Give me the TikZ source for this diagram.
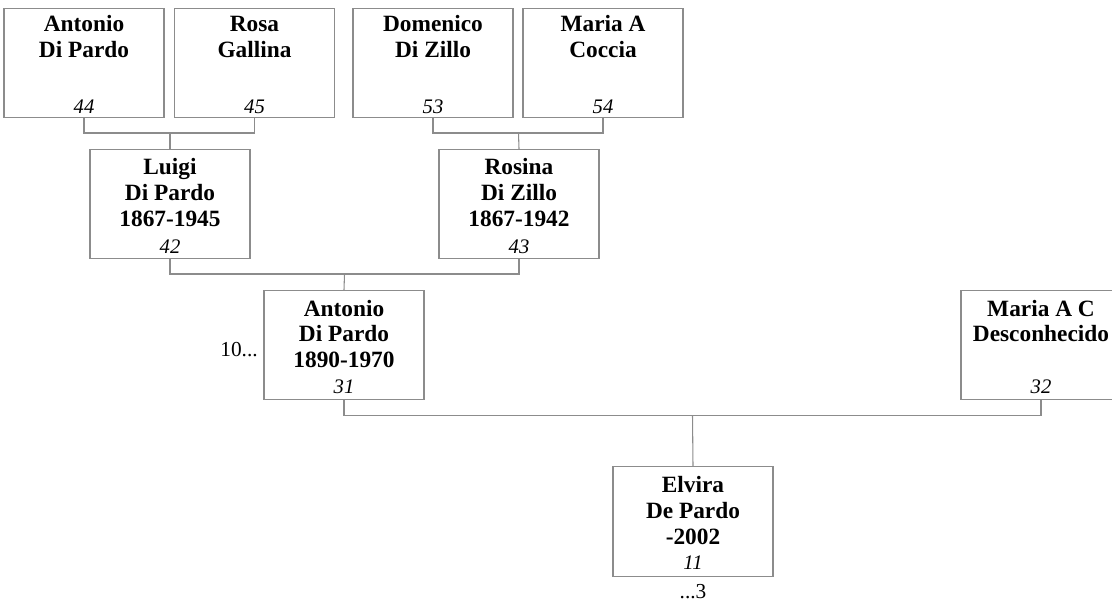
\documentclass[tikz,border=0pt]{standalone}
\usepackage{fontspec}
\setmainfont{Liberation Serif}
\usetikzlibrary{calc}
\definecolor{linegray}{HTML}{8C8C8C}
\begin{document}
\begin{tikzpicture}[x=0.75pt,y=-0.75pt,
  pbox/.style={draw=linegray, line width=0.8pt, minimum width=120pt, minimum height=82pt, inner sep=0pt},
  nm/.style={anchor=base, font=\fontsize{17.5}{20}\selectfont\bfseries, inner sep=0pt},
  num/.style={anchor=base, font=\fontsize{15.5}{18}\selectfont\itshape, inner sep=0pt},
  side/.style={font=\fontsize{16}{19}\selectfont, inner sep=0pt},
  link/.style={draw=linegray, line width=0.8pt}]
\useasboundingbox (0,0) rectangle (1112,602);
\clip (0,0) rectangle (1112,602);

% boxes (center x, center y)
\node[pbox] (p44) at (84,63) {};
\node[pbox] (p45) at (254.5,63) {};
\node[pbox] (p53) at (433,63) {};
\node[pbox] (p54) at (603,63) {};
\node[pbox] (p42) at (170,204) {};
\node[pbox] (p43) at (519,204) {};
\node[pbox] (p31) at (344,345) {};
\node[pbox] (p32) at (1041,345) {};
\node[pbox] (p11) at (693,521.5) {};

% texts: 44
\node[nm] (t44a) at (84,32) {Antonio};
\node[nm] (t44b) at (84,58) {Di Pardo};
\node[num] (n44) at (84,114) {44};
% 45
\node[nm] (t45a) at (254.5,32) {Rosa};
\node[nm] (t45b) at (254.5,58) {Gallina};
\node[num] (n45) at (254.5,114) {45};
% 53
\node[nm] (t53a) at (433,32) {Domenico};
\node[nm] (t53b) at (433,58) {Di Zillo};
\node[num] (n53) at (433,114) {53};
% 54
\node[nm] (t54a) at (603,32) {Maria A};
\node[nm] (t54b) at (603,58) {Coccia};
\node[num] (n54) at (603,114) {54};
% 42
\node[nm] (t42a) at (170,175) {Luigi};
\node[nm] (t42b) at (170,200.5) {Di Pardo};
\node[nm] (t42c) at (170,226) {1867-1945};
\node[num] (n42) at (170,253) {42};
% 43
\node[nm] (t43a) at (519,175) {Rosina};
\node[nm] (t43b) at (519,200.5) {Di Zillo};
\node[nm] (t43c) at (519,226) {1867-1942};
\node[num] (n43) at (519,253) {43};
% 31
\node[nm] (t31a) at (344,316) {Antonio};
\node[nm] (t31b) at (344,341.5) {Di Pardo};
\node[nm] (t31c) at (344,367) {1890-1970};
\node[num] (n31) at (344,393.5) {31};
% 32
\node[nm] (t32a) at (1041,316) {Maria A C};
\node[nm] (t32b) at (1041,341.5) {Desconhecido};
\node[num] (n32) at (1041,393.5) {32};
% 11
\node[nm] (t11a) at (693,492) {Elvira};
\node[nm] (t11b) at (693,518) {De Pardo};
\node[nm] (t11c) at (693,544.5) {-2002};
\node[num] (n11) at (693,569.5) {11};

% side labels
\node[side, anchor=base east] (s10) at (258,356) {10...};
\node[side, anchor=base] (s3) at (693,598) {...3};

% connectors
\coordinate (j1) at (170,133);
\coordinate (j2) at (518.5,133);
\coordinate (j3) at (344.5,274);
\coordinate (j4) at (692.5,415.5);
\draw[link] (p44.south) |- (j1) -| (p45.south);
\draw[link] (j1) -- (p42.north);
\draw[link] (p53.south) |- (j2) -| (p54.south);
\draw[link] (j2) -- (p43.north);
\draw[link] (p42.south) |- (j3) -| (p43.south);
\draw[link] (j3) -- (p31.north);
\draw[link] (p31.south) |- (j4) -| (p32.south);
\draw[link] (j4) -- (p11.north);
\end{tikzpicture}
\end{document}
